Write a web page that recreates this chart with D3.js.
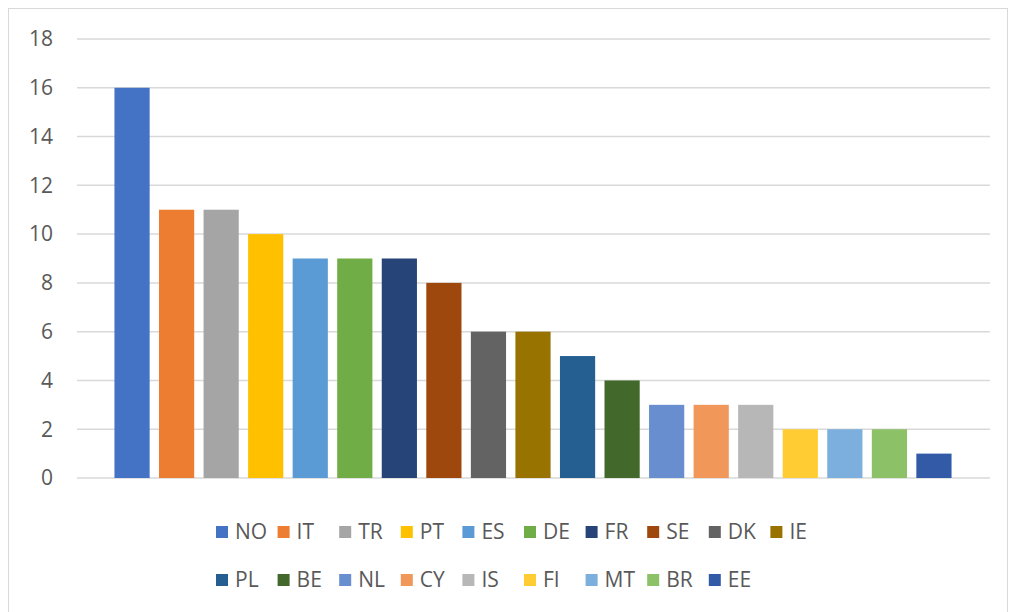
<!DOCTYPE html>
<html lang="en">
<head>
    <meta charset="UTF-8">
    <title>Country bars</title>
    <script src="https://d3js.org/d3.v7.min.js"></script>
    <style>
        body { margin: 0; background: #fff; font-family: "Open Sans", "Liberation Sans", sans-serif; }
        .grid line { stroke: #d9d9d9; stroke-width: 1.5px; }
        .tick-label { fill: #595959; font-size: 21px; }
        .legend text { fill: #595959; font-size: 21px; }
    </style>
</head>
<body>
    <svg width="1013" height="612"></svg>

    <script>
        const countries = ["NO", "IT", "TR", "PT", "ES", "DE", "FR", "SE", "DK", "IE",
                           "PL", "BE", "NL", "CY", "IS", "FI", "MT", "BR", "EE"];
        const counts = [16, 11, 11, 10, 9, 9, 9, 8, 6, 6, 5, 4, 3, 3, 3, 2, 2, 2, 1];
        const colors = ["#4472c4", "#ed7d31", "#a5a5a5", "#ffc000", "#5b9bd5", "#70ad47",
                        "#264478", "#9e480e", "#636363", "#997300", "#255e91", "#43682b",
                        "#698ed0", "#f1975a", "#b7b7b7", "#ffcd33", "#7cafdd", "#8cc168", "#335aa6"];
        const yTicks = [0, 2, 4, 6, 8, 10, 12, 14, 16, 18];

        const svg = d3.select("svg");

        // chart frame
        svg.append("rect")
            .attr("x", 8.5).attr("y", 8.5)
            .attr("width", 999).attr("height", 620)
            .attr("fill", "none")
            .attr("stroke", "#d9d9d9");

        const plotLeft = 77, plotRight = 990;
        const y = d3.scaleLinear().domain([0, 18]).range([478, 39]);
        const x = d3.scaleBand()
            .domain(countries)
            .range([110, 956])
            .paddingInner(0.21)
            .paddingOuter(0.1);

        // gridlines
        svg.append("g").attr("class", "grid")
            .selectAll("line")
            .data(yTicks)
            .enter().append("line")
            .attr("x1", plotLeft).attr("x2", plotRight)
            .attr("y1", d => y(d)).attr("y2", d => y(d));

        // y labels
        svg.append("g")
            .selectAll("text")
            .data(yTicks)
            .enter().append("text")
            .attr("class", "tick-label")
            .attr("x", 53)
            .attr("y", d => y(d))
            .attr("dy", "0.35em")
            .attr("text-anchor", "end")
            .text(d => d);

        // bars
        svg.append("g")
            .selectAll("rect")
            .data(countries)
            .enter().append("rect")
            .attr("x", d => x(d))
            .attr("width", x.bandwidth())
            .attr("y", (d, i) => y(counts[i]))
            .attr("height", (d, i) => y(0) - y(counts[i]))
            .attr("fill", (d, i) => colors[i]);

        // legend, two rows
        const perRow = 10, stepX = 61.6, rowY = [532, 580];
        const legend = svg.append("g").attr("class", "legend")
            .selectAll("g")
            .data(countries)
            .enter().append("g")
            .attr("transform", (d, i) => `translate(${216 + (i % perRow) * stepX},${rowY[Math.floor(i / perRow)]})`);

        legend.append("rect")
            .attr("x", 0).attr("y", -6)
            .attr("width", 12).attr("height", 12)
            .attr("fill", (d, i) => colors[i]);

        legend.append("text")
            .attr("x", 19)
            .attr("dy", "0.35em")
            .text(d => d);
    </script>
</body>
</html>
